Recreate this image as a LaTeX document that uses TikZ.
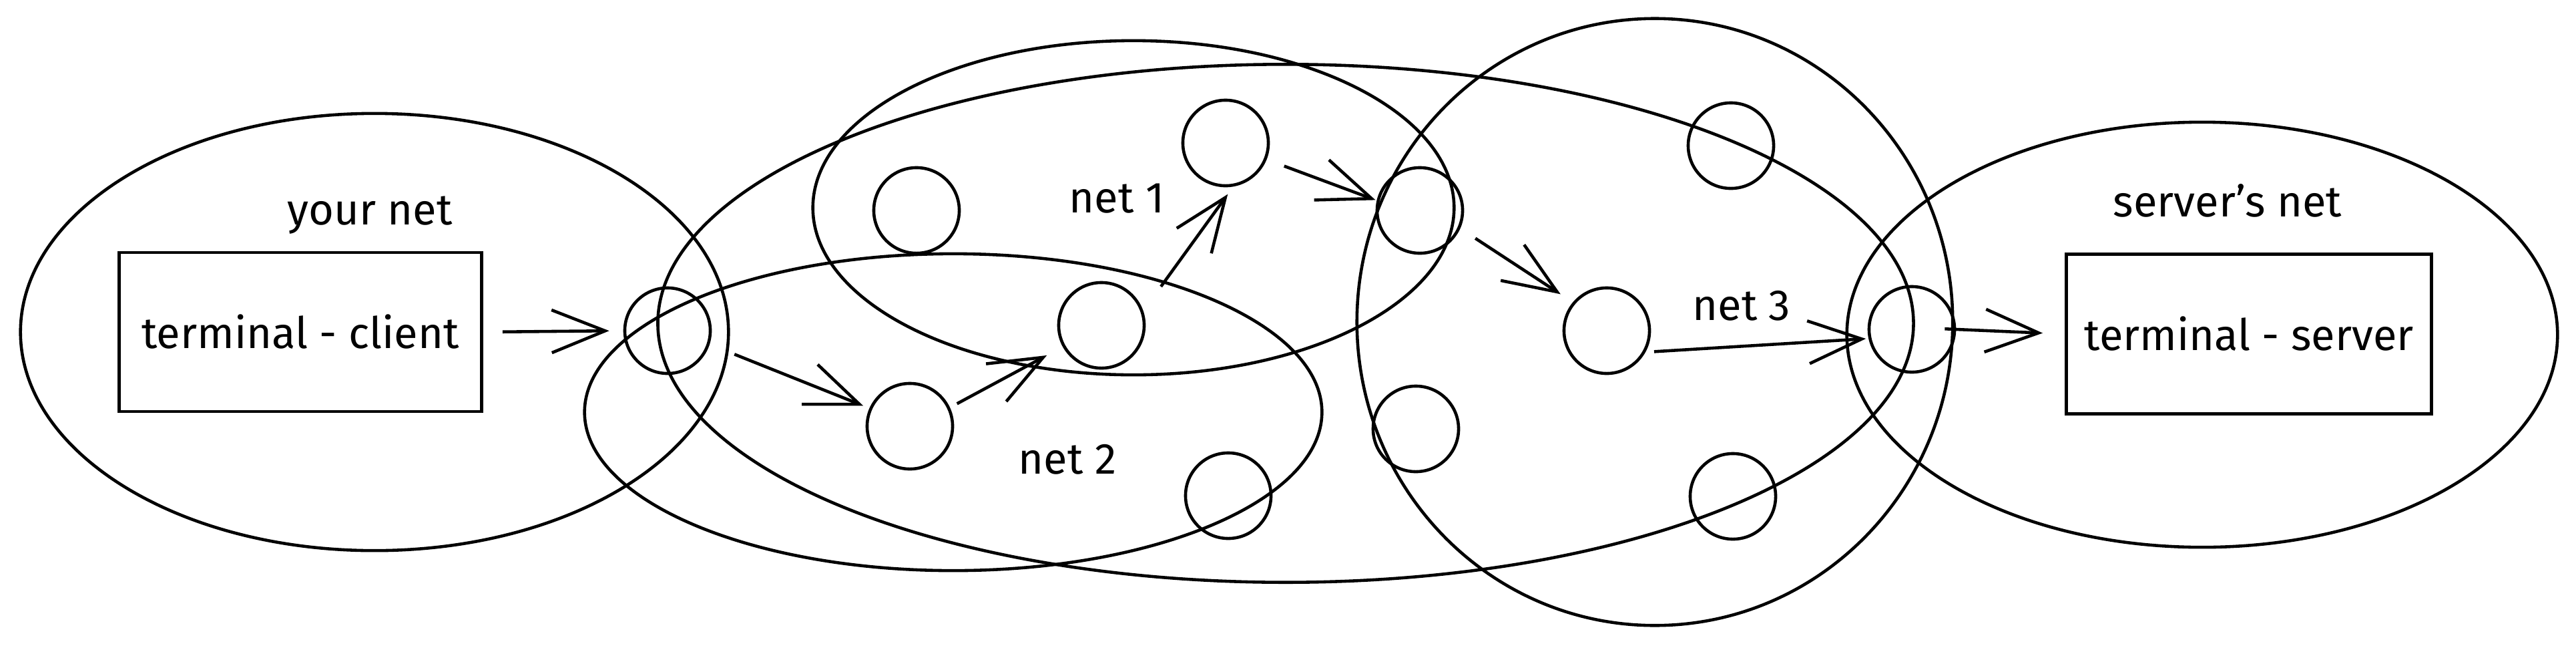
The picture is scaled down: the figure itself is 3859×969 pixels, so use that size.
\documentclass[tikz,border=0pt]{standalone}
\usepackage{fontspec}
\setmainfont{Fira Sans}
\usetikzlibrary{arrows.meta,shapes.geometric}
\begin{document}
\begin{tikzpicture}[x=0.01cm,y=-0.01cm,
  line width=1.3pt,
  netshape/.style={draw,ellipse,inner sep=0pt},
  hostnode/.style={draw,circle,minimum size=1.28cm,inner sep=0pt},
  termbox/.style={draw,rectangle,inner sep=0pt,font=\fontsize{18.5pt}{22pt}\selectfont},
  lbl/.style={inner sep=0pt,font=\fontsize{18.5pt}{22pt}\selectfont},
  flow/.style={-{Straight Barb[length=0.8cm,width=0.64cm,line width=1.3pt]}},
]
\useasboundingbox (0,0) rectangle (3859,969);
% nets
\node[netshape,minimum width=10.6cm,minimum height=6.54cm] (yournet) at (561,497) {};
\node[netshape,minimum width=18.8cm,minimum height=7.75cm] (bignet) at (1926,484) {};
\node[netshape,minimum width=9.6cm,minimum height=5.0cm] (net1) at (1698,311) {};
\node[netshape,minimum width=11.04cm,minimum height=4.74cm] (net2) at (1428,617) {};
\node[netshape,minimum width=8.92cm,minimum height=9.08cm] (net3) at (2479,482) {};
\node[netshape,minimum width=10.64cm,minimum height=6.36cm] (servnet) at (3299,501) {};
% boxes
\node[termbox,minimum width=5.43cm,minimum height=2.38cm] (client) at (450,497) {terminal - client};
\node[termbox,minimum width=5.47cm,minimum height=2.39cm] (server) at (3369,500) {terminal - server};
% labels
\node[lbl] (lyour) at (554,322) {your net};
\node[lbl] (lserv) at (3337,300) {server's net};
\node[lbl] (l1) at (1673,297) {net 1};
\node[lbl] (l2) at (1599,688) {net 2};
\node[lbl] (l3) at (2609,458) {net 3};
% hosts
\node[hostnode] (gw1) at (1000,495) {};
\node[hostnode] (a2) at (1363,638) {};
\node[hostnode] (a1) at (1373,315) {};
\node[hostnode] (m) at (1650,487) {};
\node[hostnode] (b1) at (1836,214) {};
\node[hostnode] (c1) at (2127,315) {};
\node[hostnode] (b2) at (1840,742) {};
\node[hostnode] (d) at (2121,642) {};
\node[hostnode] (e) at (2593,218) {};
\node[hostnode] (f) at (2407,495) {};
\node[hostnode] (g) at (2596,743) {};
\node[hostnode] (gw2) at (2864,493) {};
% flows
\draw[flow,shorten <=0.29cm,shorten >=0.21cm] (client.east) -- (gw1.west);
\draw[flow,shorten <=0.40cm,shorten >=0.10cm] (gw1.-18) -- (a2.156);
\draw[flow,shorten <=0.12cm,shorten >=0.27cm] (a2.25) -- (m.209);
\draw[flow,shorten <=0.45cm,shorten >=0.14cm] (m.19) -- (b1.-80);
\draw[flow,shorten <=0.28cm,shorten >=0.02cm] (b1.-22) -- (c1.167);
\draw[flow,shorten <=0.27cm,shorten >=0.22cm] (c1.-24) -- (f.140);
\draw[flow,shorten <=0.13cm,shorten >=0.04cm] (f.-29) -- (gw2.192);
\draw[flow,shorten <=-0.17cm,shorten >=0.33cm] (gw2.east) -- (server.west);
\end{tikzpicture}
\end{document}
